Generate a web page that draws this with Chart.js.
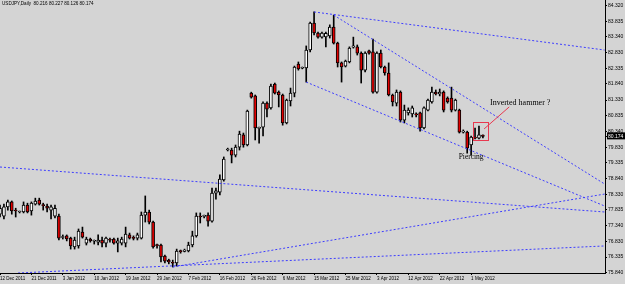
<!DOCTYPE html>
<html lang="en">
<head>
<meta charset="UTF-8">
<title>USDJPY Daily</title>
<script src="https://cdn.jsdelivr.net/npm/chart.js@4.4.0/dist/chart.umd.min.js"></script>
<style>
  body { margin: 0; background: #d4d4d4; }
  #chart { display: block; background: #d4d4d4; }
</style>
</head>
<body>
<canvas id="chart" width="625" height="284"></canvas>
<script>
const symbol = 'USDJPY,Daily';

// daily candles, 12 Dec 2011 .. 4 May 2012
const opens = [
  77.70, 77.64, 77.93, 78.09, 77.83, 77.77, 77.77, 77.99, 77.80, 78.02,
  78.15, 78.00, 77.96, 77.83, 77.64, 77.64, 76.96, 77.01, 76.94, 76.66,
  76.69, 77.13, 76.78, 76.91, 76.84, 76.81, 76.88, 76.78, 76.89, 76.91,
  76.78, 76.78, 76.78, 77.04, 76.95, 76.94, 76.94, 77.67, 77.77, 77.45,
  76.72, 76.72, 76.37, 76.24, 76.16, 76.15, 76.53, 76.52, 76.53, 76.72,
  77.01, 77.64, 77.63, 77.67, 77.48, 78.37, 78.40, 78.79, 79.74, 79.74,
  79.58, 79.83, 80.22, 79.90, 81.55, 81.46, 80.43, 80.47, 81.23, 81.08,
  81.84, 81.58, 81.49, 80.60, 81.30, 81.55, 82.47, 82.34, 82.35, 82.92,
  83.78, 83.46, 83.33, 83.34, 83.37, 83.65, 83.14, 82.51, 82.41, 82.54,
  83.01, 83.02, 82.82, 82.28, 82.89, 82.86, 81.58, 82.82, 82.38, 82.19,
  81.49, 81.23, 81.58, 80.69, 80.92, 80.89, 80.89, 80.92, 80.44, 81.01,
  81.27, 81.58, 81.52, 81.58, 81.39, 81.39, 81.01, 81.01, 80.31, 80.31,
  79.90, 80.15, 80.12, 80.216
];
const highs = [
  77.99, 78.02, 78.15, 78.12, 77.89, 77.80, 78.09, 78.05, 78.09, 78.21,
  78.21, 78.05, 78.02, 77.99, 77.99, 77.70, 77.04, 77.04, 76.97, 76.97,
  77.23, 77.29, 76.97, 76.94, 76.88, 77.04, 76.97, 76.97, 76.94, 76.94,
  76.94, 76.97, 77.29, 77.10, 77.01, 77.10, 77.77, 78.28, 77.83, 77.48,
  76.75, 76.75, 76.40, 76.27, 76.24, 76.59, 76.56, 76.59, 76.81, 77.16,
  77.74, 77.74, 77.67, 77.74, 78.53, 78.53, 78.95, 79.52, 79.80, 79.80,
  79.90, 80.34, 80.28, 81.01, 81.58, 81.49, 80.47, 81.27, 81.27, 81.84,
  81.87, 81.62, 81.52, 81.36, 81.71, 82.41, 82.54, 82.38, 83.05, 83.81,
  84.13, 83.49, 83.49, 83.49, 83.72, 84.03, 83.17, 82.54, 82.60, 83.02,
  83.33, 83.08, 82.86, 82.86, 82.92, 83.27, 82.86, 82.92, 82.41, 82.51,
  81.52, 81.65, 81.62, 81.17, 81.08, 81.14, 80.92, 80.95, 81.11, 81.36,
  81.74, 81.65, 81.68, 81.62, 81.43, 81.74, 81.36, 81.04, 80.38, 80.34,
  80.18, 80.44, 80.50, 80.227
];
const lows = [
  77.61, 77.55, 77.83, 77.70, 77.61, 77.74, 77.74, 77.74, 77.67, 77.99,
  77.99, 77.83, 77.77, 77.55, 77.58, 76.88, 76.91, 76.85, 76.59, 76.59,
  76.62, 76.94, 76.72, 76.81, 76.75, 76.72, 76.66, 76.66, 76.81, 76.75,
  76.50, 76.72, 76.66, 76.91, 76.88, 76.88, 76.91, 77.45, 77.39, 76.62,
  76.62, 76.18, 76.15, 76.12, 76.02, 76.05, 76.46, 76.50, 76.50, 76.66,
  76.97, 77.42, 77.58, 77.32, 77.45, 78.18, 78.31, 78.75, 79.71, 79.33,
  79.52, 79.74, 79.83, 79.87, 81.39, 80.06, 79.96, 80.19, 80.79, 81.04,
  81.52, 81.11, 80.53, 80.57, 81.14, 81.43, 82.28, 82.32, 81.90, 82.86,
  83.40, 83.30, 83.30, 83.02, 83.30, 83.11, 82.38, 81.90, 82.38, 82.51,
  82.98, 82.76, 81.87, 82.22, 82.79, 81.55, 81.55, 82.35, 82.12, 81.46,
  81.14, 81.14, 80.63, 80.60, 80.85, 80.79, 80.79, 80.34, 80.41, 80.98,
  81.23, 81.49, 81.46, 80.95, 81.23, 80.95, 80.98, 80.28, 80.28, 79.64,
  79.58, 80.09, 80.09, 80.126
];
const closes = [
  77.89, 77.93, 78.09, 77.80, 77.80, 77.80, 77.99, 77.77, 78.05, 78.12,
  78.02, 77.97, 77.89, 77.93, 77.89, 76.94, 76.99, 76.91, 76.69, 76.88,
  77.16, 76.97, 76.91, 76.85, 76.86, 76.88, 76.78, 76.94, 76.87, 76.78,
  76.85, 76.91, 77.07, 76.94, 76.93, 77.04, 77.67, 77.77, 77.45, 76.66,
  76.70, 76.34, 76.21, 76.18, 76.14, 76.53, 76.51, 76.56, 76.72, 77.01,
  77.64, 77.61, 77.64, 77.48, 78.37, 78.44, 78.82, 79.45, 79.77, 79.58,
  79.83, 80.25, 79.90, 80.98, 81.42, 80.44, 80.45, 81.23, 81.04, 81.77,
  81.55, 81.49, 80.60, 81.33, 81.55, 82.38, 82.32, 82.35, 82.92, 83.78,
  83.46, 83.33, 83.46, 83.45, 83.65, 83.14, 82.51, 82.38, 82.57, 82.98,
  83.05, 82.82, 82.28, 82.82, 82.82, 81.58, 82.82, 82.38, 82.19, 81.49,
  81.27, 81.58, 80.69, 81.01, 81.01, 81.08, 80.86, 80.44, 81.08, 81.33,
  81.58, 81.52, 81.58, 81.01, 81.27, 81.01, 81.33, 80.31, 80.34, 79.80,
  80.15, 80.12, 80.22, 80.174
];

// x axis: one label every 8 bars
const dateTickIdx = [0, 8, 16, 24, 32, 40, 48, 56, 64, 72, 80, 88, 96, 104, 112, 120];
const dateLabels = ['12 Dec 2011', '21 Dec 2011', '3 Jan 2012', '10 Jan 2012', '19 Jan 2012',
  '29 Jan 2012', '7 Feb 2012', '16 Feb 2012', '26 Feb 2012', '6 Mar 2012', '15 Mar 2012',
  '25 Mar 2012', '3 Apr 2012', '12 Apr 2012', '22 Apr 2012', '1 May 2012'];

// price scale labels
const priceTicks = [84.320, 83.835, 83.340, 82.830, 82.335, 81.840, 81.330, 80.835, 80.340,
  79.830, 79.335, 78.840, 78.330, 77.835, 77.340, 76.830, 76.335, 75.840];

// trend lines [bar1, price1, bar2, price2]
const trendlines = [
  [80, 84.13, 154, 82.92],
  [85, 84.03, 154, 78.66],
  [78, 81.90, 154, 77.96],
  [0, 79.20, 154, 77.77],
  [44, 76.02, 154, 78.34],
  [4.6, 75.83, 154, 76.69]
];

// hand drawn notes (bar, price)
const noteBox = [120.5, 80.63, 124.3, 80.06];
const notePointer = [123.3, 80.41, 129.7, 81.11];
const noteHammer = { text: 'Inverted hammer ?', bar: 124.8, price: 81.24 };
const notePiercing = { text: 'Piercing', bar: 120, price: 79.52 };

const last = closes.length - 1;
const lastClose = closes[last];
const idx = opens.map((_, i) => i);

const overlay = {
  id: 'overlay',
  afterDatasetsDraw(chart) {
    const { ctx, scales: { x, y } } = chart;
    ctx.save();
    ctx.strokeStyle = '#e8384f';
    ctx.lineWidth = 1;
    const bx1 = Math.round(x.getPixelForValue(noteBox[0])) + 0.5;
    const by1 = Math.round(y.getPixelForValue(noteBox[1])) + 0.5;
    const bx2 = Math.round(x.getPixelForValue(noteBox[2])) + 0.5;
    const by2 = Math.round(y.getPixelForValue(noteBox[3])) + 0.5;
    ctx.strokeRect(bx1, by1, bx2 - bx1, by2 - by1);
    ctx.beginPath();
    ctx.moveTo(x.getPixelForValue(notePointer[0]), y.getPixelForValue(notePointer[1]));
    ctx.lineTo(x.getPixelForValue(notePointer[2]), y.getPixelForValue(notePointer[3]));
    ctx.stroke();

    ctx.fillStyle = '#000';
    ctx.textBaseline = 'middle';
    ctx.textAlign = 'left';
    ctx.font = '8px "Liberation Serif"';
    ctx.fillText(noteHammer.text, x.getPixelForValue(noteHammer.bar), y.getPixelForValue(noteHammer.price));
    ctx.font = '7.5px "Liberation Serif"';
    ctx.textAlign = 'center';
    ctx.fillText(notePiercing.text, x.getPixelForValue(notePiercing.bar), y.getPixelForValue(notePiercing.price));

    // header line with the current bar
    ctx.textAlign = 'left';
    ctx.font = '4.6px "Liberation Sans"';
    const head = symbol + '  ' + [opens[last], highs[last], lows[last], closes[last]].map(v => v.toFixed(3)).join(' ');
    ctx.fillText(head, 2, 4);
    ctx.restore();
  }
};

const datasets = [
  {
    type: 'bar',
    data: idx.map(i => ({ x: i, y: [lows[i], highs[i]] })),
    backgroundColor: '#000',
    borderWidth: 0,
    barThickness: 1,
    grouped: false,
    order: 2
  },
  {
    type: 'bar',
    data: idx.map(i => ({ x: i, y: [opens[i], closes[i]] })),
    backgroundColor: idx.map(i => closes[i] >= opens[i] ? '#ffffff' : '#e00000'),
    borderColor: '#000',
    borderWidth: 1,
    borderSkipped: false,
    barThickness: 3,
    minBarLength: 1,
    grouped: false,
    order: 1
  }
];
trendlines.forEach(t => {
  datasets.push({
    type: 'line',
    data: [{ x: t[0], y: t[1] }, { x: t[2], y: t[3] }],
    borderColor: '#3c3cff',
    borderWidth: 1,
    borderDash: [2, 2],
    pointRadius: 0,
    fill: false,
    order: 0
  });
});

const smallFont = { family: 'Liberation Sans', size: 4.5 };

new Chart(document.getElementById('chart'), {
  type: 'bar',
  data: { datasets },
  options: {
    responsive: false,
    animation: false,
    devicePixelRatio: 1,
    events: [],
    layout: { padding: 0 },
    plugins: { legend: { display: false }, tooltip: { enabled: false }, title: { display: false } },
    scales: {
      x: {
        type: 'linear',
        offset: false,
        min: 0,
        max: 154.1,
        afterBuildTicks: s => { s.ticks = dateTickIdx.map(v => ({ value: v })); },
        afterFit: s => { s.height = 11; s.paddingLeft = 0; s.paddingRight = 0; },
        grid: { offset: false, drawOnChartArea: false, drawTicks: true, tickLength: 2, color: '#000' },
        border: { display: true, color: '#000', width: 1 },
        ticks: {
          autoSkip: false, maxRotation: 0, minRotation: 0, align: 'start', padding: 1,
          color: '#000', font: smallFont,
          callback: (v, i) => dateLabels[i]
        }
      },
      y: {
        position: 'right',
        min: 75.83,
        max: 84.51,
        afterBuildTicks: s => { s.ticks = priceTicks.concat([lastClose]).map(v => ({ value: v })); },
        afterFit: s => { s.width = 20; s.paddingTop = 0; s.paddingBottom = 0; },
        grid: { drawOnChartArea: false, drawTicks: true, tickLength: 2, color: '#000' },
        border: { display: true, color: '#000', width: 1 },
        ticks: {
          autoSkip: false, padding: 1,
          font: { family: 'Liberation Sans', size: 5 },
          color: c => c.tick && c.tick.value === lastClose ? '#fff' : '#000',
          showLabelBackdrop: c => !!(c.tick && c.tick.value === lastClose),
          backdropColor: '#000',
          backdropPadding: { top: 1, bottom: 0, left: 1, right: 2 },
          callback: v => Number(v).toFixed(3)
        }
      }
    }
  },
  plugins: [overlay]
});
</script>
</body>
</html>
